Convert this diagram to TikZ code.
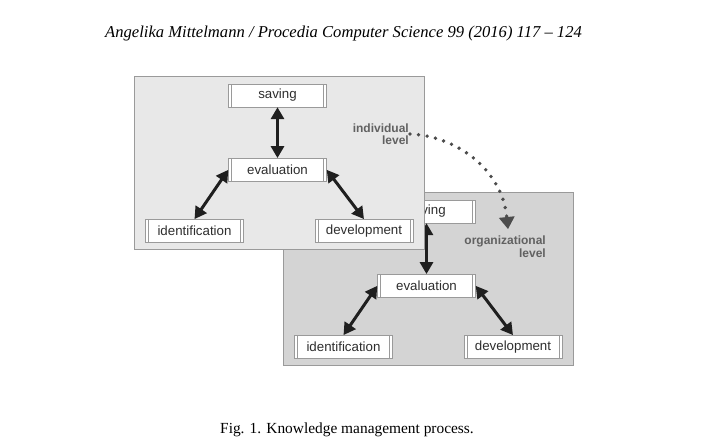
\documentclass[tikz,border=0pt]{standalone}
\usepackage{fontspec}
\setmainfont{Liberation Serif}
\setsansfont{Liberation Sans}
\usetikzlibrary{arrows.meta}
\definecolor{boxline}{HTML}{9A9A9A}
\definecolor{indfill}{HTML}{E8E8E8}
\definecolor{orgfill}{HTML}{D4D4D4}
\tikzset{phase/.style={draw=boxline, fill=white, minimum width=98pt,
        minimum height=23pt, inner sep=0pt, text=black!82,
        font=\sffamily\fontsize{13.3}{15}\selectfont,
        path picture={\draw[boxline]
            ([xshift=3pt]path picture bounding box.north west) --
            ([xshift=3pt]path picture bounding box.south west)
            ([xshift=-3pt]path picture bounding box.north east) --
            ([xshift=-3pt]path picture bounding box.south east);}},
    link/.style={{Triangle[length=12pt,width=13pt]}-{Triangle[length=12pt,width=13pt]},
        line width=3pt, black!88},
    level/.style={font=\sffamily\bfseries\fontsize{12}{12.5}\selectfont,
        text=black!62, align=right, inner sep=0pt},
    dots/.style={line width=3.8pt, line cap=round, dash pattern=on 0pt off 8.6pt,
        draw=black!70, -{Triangle[length=12pt,width=16pt,line width=0pt]}}}

\begin{document}
\begin{tikzpicture}[x=1pt,y=-1pt]
    \useasboundingbox[fill=white] (0,0) rectangle (704,447);
    \node[font=\itshape\fontsize{16.6}{18}\selectfont] (head) at (343.5,34)
        {Angelika Mittelmann / Procedia Computer Science 99 (2016) 117 -- 124};
    % organizational level first, individual level on top
    \foreach \n/\dx/\dy/\shade in {o/149/116/orgfill, i/0/0/indfill}
    {
        \begin{scope}[shift={(\dx,\dy)}]
            \draw[boxline, fill=\shade] (134,76) rectangle (424,249.5);
            \node[phase] (save\n) at (277.5,95.5) {saving};
            \node[phase] (eval\n) at (277.5,169.8) {evaluation};
            \node[phase] (ident\n) at (194.5,230.8) {identification};
            \node[phase] (dev\n) at (364,230.8) {development};
            \draw[link] (save\n) -- (eval\n);
            \draw[link] (eval\n.west) -- (ident\n.north);
            \draw[link] (eval\n.east) -- (dev\n.north);
        \end{scope}
    }
    \node[level, anchor=east] (indiv) at (409,134) {individual\\level};
    \node[level, anchor=north east] (orgl) at (546,236) {organizational\\level};
    \coordinate (orgtip) at (508,229);
    \draw[dots] ([xshift=1pt]indiv.east) .. controls +(47,2) and +(-6,-59) .. (orgtip);
    \node[font=\fontsize{15.4}{17}\selectfont] (cap) at (347,429.5)
        {Fig. 1. Knowledge management process.};
\end{tikzpicture}
\end{document}
